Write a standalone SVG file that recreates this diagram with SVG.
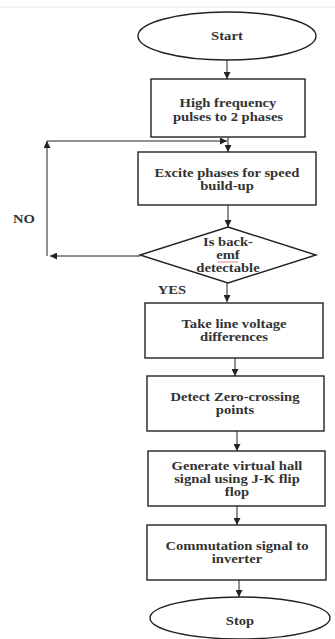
<svg xmlns="http://www.w3.org/2000/svg" width="335" height="639" viewBox="0 0 335 639">
<style>
.n{fill:#fff;stroke:#222;stroke-width:1.4}
.t{font-family:"Liberation Serif",serif;font-size:12px;font-weight:bold;fill:#333;text-anchor:middle;transform-box:fill-box;transform-origin:center;transform:scaleX(1.22)}
.c{fill:none;stroke:#222;stroke-width:1}
</style>
<defs>
<marker id="a" viewBox="0 0 10 10" refX="10" refY="5" markerWidth="7" markerHeight="7" orient="auto" markerUnits="userSpaceOnUse">
<path d="M0,0L10,5L0,10z" fill="#222"/>
</marker>
</defs>
<rect width="335" height="639" fill="#fff"/>
<line x1="0" y1="7" x2="335" y2="7" stroke="#e6e6e6" stroke-width="1"/>
<g id="connectors">
<line class="c" x1="227" y1="60" x2="227" y2="79" marker-end="url(#a)"/>
<line class="c" x1="228" y1="137" x2="228" y2="152" marker-end="url(#a)"/>
<line class="c" x1="228" y1="205" x2="228" y2="227" marker-end="url(#a)"/>
<line class="c" x1="140" y1="256" x2="50" y2="256" marker-end="url(#a)"/>
<line class="c" x1="47" y1="256" x2="47" y2="141" marker-end="url(#a)"/>
<line class="c" x1="47" y1="141" x2="227" y2="141" marker-end="url(#a)"/>
<line class="c" x1="227" y1="283" x2="227" y2="302" marker-end="url(#a)"/>
<line class="c" x1="235" y1="358" x2="235" y2="376" marker-end="url(#a)"/>
<line class="c" x1="237" y1="431" x2="237" y2="451" marker-end="url(#a)"/>
<line class="c" x1="237" y1="506" x2="237" y2="525" marker-end="url(#a)"/>
<line class="c" x1="239" y1="580" x2="239" y2="597" marker-end="url(#a)"/>
<text class="t" x="24" y="223">NO</text>
<text class="t" x="172" y="294">YES</text>
</g>
<g id="start">
<ellipse class="n" cx="227" cy="36" rx="89" ry="24"/>
<text class="t" x="227" y="40">Start</text>
</g>
<g id="pulses">
<rect class="n" x="151" y="79" width="154" height="58"/>
<text class="t" x="228" y="107">High frequency</text>
<text class="t" x="228" y="121">pulses to 2 phases</text>
</g>
<g id="excite">
<rect class="n" x="138" y="152" width="178" height="53"/>
<text class="t" x="227" y="177">Excite phases for speed</text>
<text class="t" x="227" y="190">build-up</text>
</g>
<g id="decision">
<polygon class="n" points="228,227 316,255 228,283 140,255"/>
<text class="t" x="228" y="246">Is back-</text>
<text class="t" x="228" y="259">emf</text>
<line x1="218" y1="262" x2="238" y2="262" stroke="#d66" stroke-width="0.8"/>
<text class="t" x="228" y="272">detectable</text>
</g>
<g id="line-voltage">
<rect class="n" x="145" y="303" width="178" height="55"/>
<text class="t" x="234" y="328">Take line voltage</text>
<text class="t" x="234" y="341">differences</text>
</g>
<g id="zero-crossing">
<rect class="n" x="147" y="376" width="177" height="55"/>
<text class="t" x="235" y="401">Detect Zero-crossing</text>
<text class="t" x="235" y="414">points</text>
</g>
<g id="hall">
<rect class="n" x="148" y="451" width="177" height="55"/>
<text class="t" x="237" y="470">Generate virtual hall</text>
<text class="t" x="237" y="483">signal using J-K flip</text>
<text class="t" x="237" y="496">flop</text>
</g>
<g id="commutation">
<rect class="n" x="147" y="525" width="179" height="55"/>
<text class="t" x="237" y="550">Commutation signal to</text>
<text class="t" x="237" y="563">inverter</text>
</g>
<g id="stop">
<ellipse class="n" cx="240" cy="618" rx="90" ry="21"/>
<text class="t" x="240" y="625">Stop</text>
</g>
</svg>
